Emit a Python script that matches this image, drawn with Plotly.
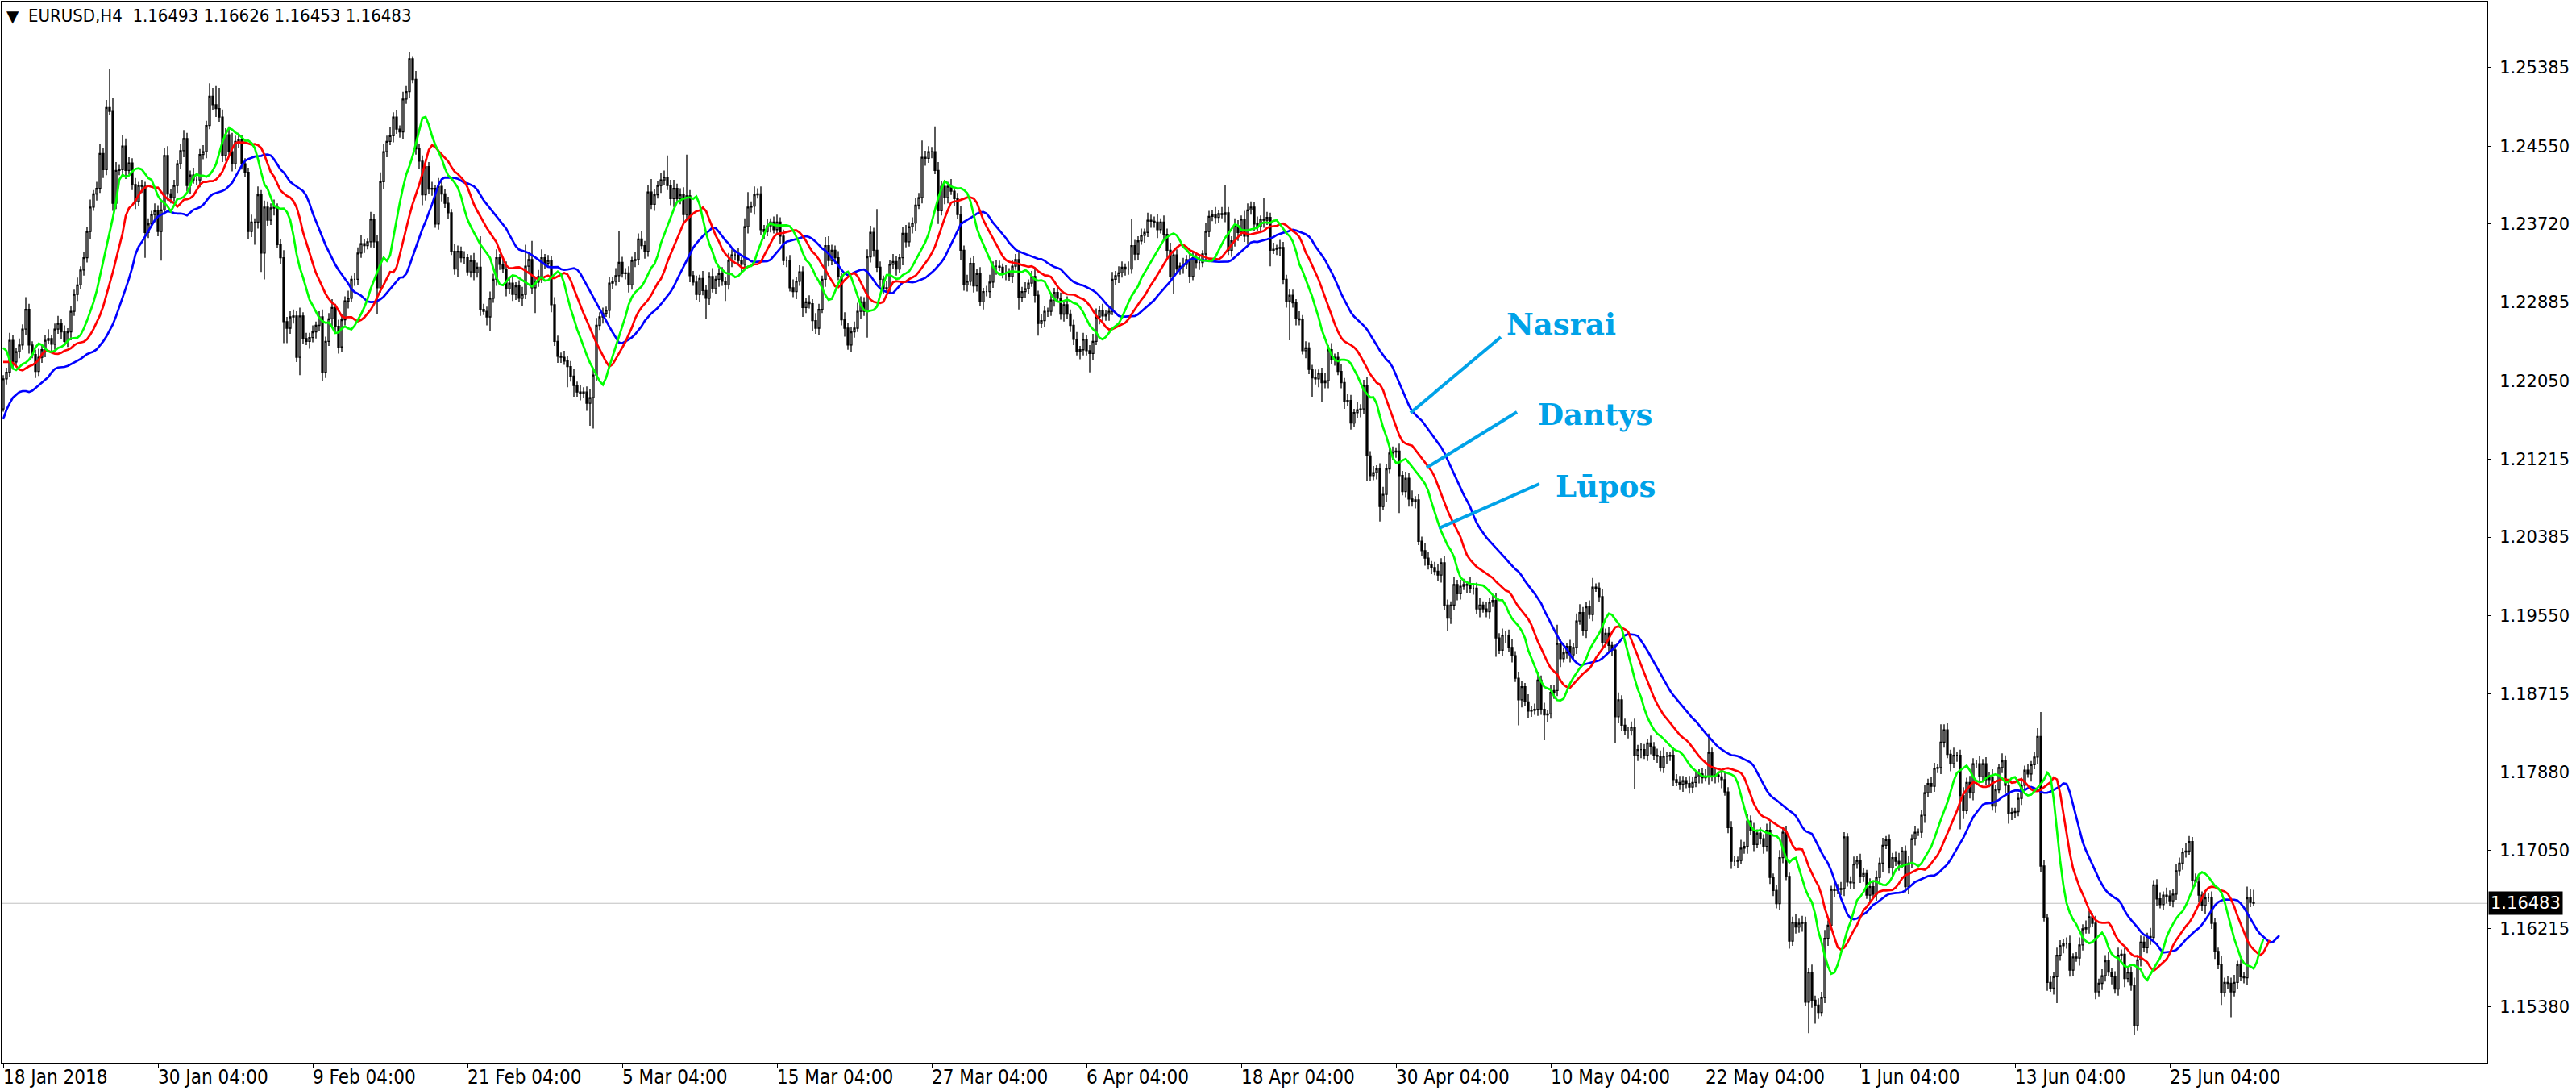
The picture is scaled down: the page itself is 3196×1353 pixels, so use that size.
import plotly.graph_objects as go

# --- data (prices in pips, 1 pip = 0.0001) ---
symbol_title = "EURUSD,H4  1.16493 1.16626 1.16453 1.16483"
last_price = 1.16483

first_open = 12175

closes = [
    12207, 12214, 12248, 12225, 12236, 12243, 12260, 12281, 12243, 12233,
    12215, 12230, 12238, 12248, 12250, 12244, 12260, 12266, 12257, 12247,
    12257, 12279, 12297, 12307, 12323, 12336, 12364, 12390, 12404, 12410,
    12447, 12430, 12496, 12492, 12394, 12429, 12430, 12455, 12429, 12437,
    12414, 12396, 12413, 12412, 12363, 12372, 12382, 12386, 12364, 12387,
    12445, 12404, 12400, 12413, 12436, 12450, 12463, 12413, 12424, 12419,
    12419, 12446, 12449, 12477, 12508, 12499, 12495, 12486, 12445, 12467,
    12449, 12436, 12460, 12462, 12436, 12427, 12364, 12374, 12374, 12403,
    12341, 12390, 12376, 12389, 12390, 12350, 12336, 12268, 12261, 12273,
    12274, 12230, 12274, 12250, 12247, 12251, 12257, 12264, 12273, 12214,
    12247, 12271, 12283, 12263, 12241, 12270, 12290, 12293, 12313, 12313,
    12341, 12351, 12349, 12353, 12377, 12353, 12304, 12417, 12449, 12460,
    12466, 12486, 12473, 12470, 12505, 12513, 12548, 12526, 12452, 12439,
    12403, 12433, 12409, 12410, 12372, 12412, 12404, 12394, 12384, 12343,
    12324, 12343, 12336, 12336, 12321, 12333, 12320, 12326, 12281, 12279,
    12273, 12293, 12313, 12336, 12329, 12324, 12303, 12309, 12297, 12306,
    12293, 12297, 12327, 12334, 12304, 12310, 12316, 12336, 12330, 12333,
    12286, 12247, 12231, 12230, 12226, 12220, 12210, 12200, 12193, 12191,
    12193, 12181, 12187, 12211, 12264, 12273, 12277, 12280, 12309, 12311,
    12317, 12331, 12319, 12320, 12307, 12333, 12334, 12356, 12349, 12343,
    12406, 12393, 12403, 12413, 12419, 12422, 12413, 12399, 12410, 12399,
    12403, 12382, 12402, 12317, 12310, 12297, 12314, 12301, 12293, 12316,
    12303, 12313, 12319, 12311, 12307, 12333, 12339, 12339, 12333, 12329,
    12369, 12390, 12391, 12403, 12404, 12366, 12364, 12370, 12374, 12366,
    12374, 12359, 12333, 12333, 12304, 12300, 12311, 12321, 12283, 12289,
    12287, 12269, 12261, 12281, 12313, 12349, 12333, 12344, 12336, 12316,
    12270, 12261, 12243, 12257, 12261, 12279, 12289, 12279, 12337, 12363,
    12344, 12326, 12313, 12303, 12304, 12329, 12332, 12324, 12336, 12362,
    12353, 12369, 12373, 12392, 12400, 12443, 12442, 12449, 12449, 12429,
    12386, 12412, 12400, 12412, 12407, 12399, 12382, 12344, 12307, 12311,
    12330, 12306, 12319, 12289, 12300, 12300, 12310, 12327, 12327, 12326,
    12320, 12320, 12316, 12327, 12334, 12294, 12300, 12303, 12309, 12316,
    12296, 12266, 12269, 12279, 12279, 12291, 12299, 12293, 12276, 12286,
    12276, 12264, 12249, 12236, 12238, 12249, 12237, 12234, 12247, 12273,
    12280, 12274, 12276, 12279, 12313, 12317, 12320, 12326, 12324, 12324,
    12349, 12340, 12354, 12360, 12363, 12376, 12375, 12374, 12366, 12374,
    12361, 12344, 12316, 12339, 12324, 12327, 12329, 12334, 12316, 12336,
    12331, 12331, 12340, 12364, 12380, 12382, 12379, 12383, 12382, 12384,
    12344, 12354, 12370, 12363, 12377, 12359, 12387, 12390, 12372, 12369,
    12377, 12376, 12379, 12344, 12345, 12346, 12347, 12313, 12290, 12296,
    12288, 12271, 12270, 12237, 12240, 12217, 12208, 12207, 12213, 12203,
    12205, 12238, 12228, 12230, 12215, 12203, 12183, 12184, 12160, 12171,
    12174, 12175, 12200, 12125, 12104, 12107, 12111, 12071, 12084, 12111,
    12128, 12129, 12130, 12104, 12087, 12101, 12079, 12076, 12078, 12034,
    12024, 12016, 12009, 12006, 12002, 11998, 12011, 11966, 11952, 11966,
    11988, 11978, 11986, 11988, 11987, 11984, 11984, 11962, 11966, 11962,
    11959, 11969, 11971, 11931, 11918, 11934, 11934, 11921, 11912, 11888,
    11865, 11879, 11863, 11853, 11854, 11855, 11886, 11855, 11849, 11850,
    11873, 11875, 11925, 11909, 11915, 11922, 11913, 11921, 11949, 11958,
    11939, 11964, 11956, 11985, 11984, 11975, 11926, 11936, 11923, 11918,
    11847, 11865, 11838, 11832, 11832, 11836, 11806, 11812, 11812, 11806,
    11819, 11815, 11806, 11805, 11793, 11805, 11805, 11806, 11780, 11777,
    11775, 11779, 11776, 11772, 11777, 11783, 11786, 11782, 11783, 11809,
    11783, 11785, 11783, 11780, 11767, 11729, 11693, 11693, 11694, 11707,
    11709, 11736, 11726, 11711, 11723, 11717, 11709, 11726, 11676, 11662,
    11648, 11697, 11724, 11677, 11608, 11628, 11623, 11627, 11628, 11543,
    11575, 11545, 11540, 11532, 11548, 11611, 11625, 11663, 11662, 11663,
    11664, 11719, 11671, 11670, 11690, 11694, 11677, 11680, 11657, 11666,
    11658, 11676, 11691, 11710, 11716, 11686, 11697, 11693, 11690, 11704,
    11666, 11691, 11717, 11724, 11724, 11742, 11766, 11776, 11773, 11792,
    11793, 11820, 11833, 11807, 11797, 11806, 11806, 11763, 11747, 11777,
    11766, 11797, 11797, 11783, 11797, 11780, 11782, 11752, 11769, 11793,
    11800, 11774, 11744, 11745, 11746, 11760, 11774, 11790, 11786, 11796,
    11804, 11826, 11688, 11633, 11564, 11558, 11570, 11593, 11603, 11605,
    11605, 11577, 11591, 11590, 11604, 11621, 11623, 11634, 11627, 11554,
    11563, 11571, 11587, 11575, 11570, 11557, 11593, 11594, 11568, 11575,
    11561, 11518, 11588, 11607, 11601, 11613, 11612, 11668, 11653, 11647,
    11657, 11656, 11651, 11658, 11683, 11691, 11703, 11704, 11714, 11673,
    11671, 11657, 11646, 11654, 11654, 11627, 11597, 11583, 11553, 11564,
    11563, 11554, 11564, 11583, 11570, 11569, 11654, 11649.3, 11648.3,
]

# upper / lower shadows in pips
wick_up = [
    4, 5, 8, 6, 4, 7, 5, 13, 6, 4, 5, 9, 5, 6, 10, 4, 6, 8, 5, 7, 4, 6, 5, 8, 4,
    6, 5, 8, 4, 7, 10, 6, 8, 41, 14, 9, 5, 12, 8, 6, 5, 7, 4, 6, 5, 6, 4, 8, 6, 9,
    8, 10, 5, 6, 4, 7, 9, 6, 5, 8, 4, 6, 7, 5, 14, 9, 20, 22, 8, 7, 9, 20, 6, 7, 5,
    6, 5, 8, 4, 9, 5, 7, 6, 5, 8, 4, 6, 8, 5, 6, 7, 5, 9, 4, 6, 5, 7, 4, 6, 8,
    5, 6, 9, 4, 7, 6, 5, 8, 4, 7, 6, 9, 5, 4, 8, 6, 7, 10, 8, 6, 9, 5, 7, 4, 8,
    6, 7, 2, 9, 5, 6, 8, 5, 7, 4, 9, 6, 5, 7, 4, 8, 6, 5, 7, 4, 6, 8, 5, 33, 6,
    5, 7, 6, 9, 4, 6, 8, 5, 7, 4, 6, 8, 23, 6, 20, 5, 7, 9, 4, 6, 5, 8, 6, 4, 7,
    5, 6, 8, 4, 7, 5, 6, 9, 7, 8, 5, 6, 4, 7, 5, 8, 33, 6, 5, 7, 4, 8, 6, 9, 5,
    8, 14, 6, 5, 7, 7, 23, 6, 9, 5, 7, 8, 44, 6, 5, 7, 4, 8, 6, 5, 9, 4, 6, 7, 5,
    8, 6, 5, 7, 4, 9, 16, 5, 9, 6, 8, 5, 7, 4, 6, 8, 5, 7, 4, 6, 9, 5, 7, 6, 4,
    7, 5, 8, 6, 4, 9, 10, 6, 5, 7, 4, 8, 6, 5, 7, 9, 6, 5, 8, 7, 5, 44, 6, 4, 7,
    5, 8, 6, 4, 7, 9, 5, 6, 8, 5, 18, 7, 6, 5, 27, 9, 6, 7, 5, 8, 4, 6, 9, 5, 7,
    6, 8, 5, 7, 4, 6, 8, 5, 7, 6, 4, 8, 5, 7, 6, 10, 5, 7, 4, 6, 9, 5, 7, 6, 4,
    8, 5, 7, 6, 4, 9, 5, 6, 8, 4, 7, 5, 6, 8, 9, 5, 7, 4, 6, 8, 5, 7, 6, 4, 8,
    28, 6, 5, 7, 4, 8, 6, 5, 9, 4, 7, 6, 8, 5, 6, 4, 7, 5, 8, 6, 5, 7, 4, 9, 6,
    5, 8, 4, 7, 29, 6, 5, 8, 6, 4, 9, 7, 6, 5, 8, 4, 23, 6, 5, 7, 4, 8, 6, 5, 7,
    6, 4, 8, 5, 7, 6, 5, 9, 4, 6, 8, 5, 7, 4, 6, 8, 5, 7, 6, 4, 8, 5, 6, 9, 5,
    7, 4, 6, 8, 5, 7, 6, 4, 8, 5, 7, 6, 9, 4, 6, 5, 8, 7, 4, 6, 8, 5, 7, 6, 4,
    8, 5, 7, 6, 4, 9, 5, 6, 8, 4, 7, 5, 6, 8, 5, 7, 4, 6, 9, 5, 7, 6, 4, 8, 5,
    6, 9, 5, 7, 4, 8, 6, 20, 5, 6, 4, 7, 5, 8, 9, 6, 5, 7, 10, 4, 6, 8, 5, 7, 4,
    6, 8, 5, 7, 4, 6, 9, 5, 7, 6, 4, 8, 5, 7, 6, 9, 5, 4, 8, 6, 7, 5, 4, 8, 6,
    7, 5, 6, 8, 20, 5, 7, 4, 6, 8, 5, 7, 6, 4, 9, 5, 7, 6, 8, 4, 6, 5, 7, 9, 4,
    6, 8, 5, 7, 4, 6, 9, 5, 7, 6, 4, 8, 5, 7, 6, 9, 5, 4, 8, 6, 7, 5, 4, 6, 8,
    5, 7, 6, 4, 9, 5, 7, 6, 8, 4, 6, 5, 7, 9, 4, 6, 8, 5, 7, 4, 6, 8, 5, 7, 6,
    4, 19, 6, 7, 5, 8, 4, 6, 9, 5, 7, 6, 4, 8, 5, 7, 6, 9, 5, 4, 8, 6, 7, 5, 4,
    6, 8, 5, 7, 4, 6, 9, 26, 6, 4, 7, 5, 8, 6, 5, 7, 9, 4, 6, 8, 5, 7, 6, 4, 8,
    5, 7, 6, 9, 4, 6, 8, 5, 7, 4, 6, 8, 5, 7, 6, 4, 9, 5, 6, 7, 4, 8, 6, 5, 7,
    6, 4, 8, 6, 5, 7, 6, 4, 8, 5, 7, 6, 4, 9, 5, 7, 6, 8, 4, 6, 5, 12, 9, 13.3,
]

wick_dn = [
    3, 6, 5, 8, 4, 7, 5, 6, 9, 4, 7, 5, 6, 8, 4, 7, 6, 5, 8, 4, 6, 9, 5, 7, 4,
    6, 5, 8, 4, 7, 5, 9, 6, 4, 8, 6, 5, 7, 9, 4, 6, 8, 5, 7, 27, 6, 4, 8, 5, 31,
    5, 7, 6, 4, 8, 5, 7, 6, 9, 4, 6, 8, 5, 7, 4, 6, 9, 5, 7, 6, 4, 8, 5, 7, 6,
    5, 8, 6, 24, 7, 20, 28, 6, 5, 8, 4, 7, 23, 16, 6, 7, 5, 19, 6, 4, 8, 5, 7, 6, 9,
    6, 5, 8, 7, 7, 5, 6, 8, 4, 7, 6, 5, 8, 4, 6, 7, 28, 5, 8, 6, 4, 7, 5, 6, 8,
    5, 7, 4, 6, 8, 11, 6, 5, 7, 4, 6, 8, 5, 7, 4, 6, 8, 5, 7, 4, 6, 8, 5, 7, 4,
    9, 15, 5, 7, 6, 4, 8, 5, 7, 6, 4, 8, 5, 7, 6, 27, 5, 7, 6, 4, 8, 5, 7, 6, 4,
    22, 6, 12, 5, 7, 4, 8, 24, 33, 6, 5, 7, 4, 8, 6, 5, 7, 4, 6, 8, 5, 7, 6, 4, 8,
    6, 5, 7, 4, 8, 6, 5, 7, 9, 4, 6, 8, 5, 7, 4, 6, 8, 5, 22, 7, 4, 6, 8, 5, 17,
    5, 7, 6, 4, 8, 5, 7, 6, 9, 4, 6, 8, 5, 7, 4, 6, 8, 5, 7, 4, 6, 8, 5, 10, 6,
    5, 11, 6, 7, 4, 8, 6, 5, 7, 4, 6, 9, 5, 7, 6, 4, 8, 5, 28, 6, 7, 5, 8, 6, 4,
    6, 5, 7, 4, 8, 6, 5, 7, 9, 4, 6, 8, 5, 7, 4, 14, 5, 7, 6, 4, 8, 5, 10, 6, 7,
    5, 7, 6, 4, 8, 5, 7, 6, 9, 4, 6, 8, 5, 7, 4, 13, 5, 7, 6, 4, 8, 13, 5, 7, 6,
    5, 7, 4, 6, 8, 5, 7, 6, 4, 8, 6, 5, 20, 7, 4, 8, 6, 5, 7, 4, 6, 8, 5, 7, 6,
    5, 7, 6, 4, 8, 5, 7, 6, 9, 4, 6, 8, 5, 18, 4, 6, 8, 5, 7, 4, 6, 8, 5, 7, 6,
    5, 7, 6, 4, 8, 5, 7, 6, 9, 4, 6, 8, 5, 7, 4, 6, 8, 5, 17, 4, 6, 8, 5, 7, 42,
    5, 7, 6, 4, 8, 5, 20, 6, 9, 21, 6, 8, 5, 7, 4, 6, 8, 5, 7, 4, 6, 8, 5, 27, 6,
    5, 7, 16, 4, 8, 5, 7, 6, 40, 4, 6, 8, 5, 7, 4, 6, 8, 5, 7, 4, 6, 8, 5, 14, 6,
    5, 7, 6, 4, 8, 5, 7, 6, 9, 4, 6, 8, 5, 20, 4, 6, 8, 5, 7, 4, 27, 8, 5, 7, 6,
    5, 7, 6, 27, 8, 5, 7, 6, 9, 4, 6, 8, 5, 7, 4, 6, 8, 5, 7, 4, 6, 8, 5, 7, 6,
    28, 7, 6, 4, 8, 5, 36, 6, 9, 4, 6, 8, 5, 7, 4, 6, 8, 5, 7, 4, 6, 8, 5, 7, 6,
    5, 7, 6, 4, 8, 5, 7, 6, 9, 4, 6, 8, 5, 7, 4, 6, 8, 5, 7, 4, 6, 8, 5, 7, 6,
    5, 7, 6, 4, 8, 5, 7, 6, 9, 4, 33, 8, 20, 7, 4, 6, 8, 5, 7, 4, 6, 8, 5, 7, 6,
    5, 7, 6, 4, 8, 5, 7, 6, 9, 4, 6, 8, 5, 7, 4, 6, 8, 5, 7, 4, 6, 8, 5, 7, 6,
    5, 7, 6, 4, 8, 5, 7, 36, 9, 4, 6, 8, 5, 7, 4, 6, 8, 5, 7, 4, 6, 8, 11, 7, 6,
    5, 7, 6, 4, 8, 5, 7, 6, 4, 9, 4, 7, 28, 6, 8, 5, 7, 6, 4, 8, 6, 5, 7, 4, 8,
    5, 7, 6, 4, 8, 5, 7, 6, 9, 4, 6, 10, 5, 7, 4, 6, 8, 5, 7, 4, 6, 8, 5, 7, 6,
    5, 7, 6, 4, 8, 5, 7, 6, 9, 4, 6, 8, 5, 13, 4, 6, 27, 5, 7, 4, 6, 8, 5, 3,
]

# Alligator values visible before the first computed point (pips)
jaw_head = [12164, 12174, 12181, 12187, 12190, 12193, 12194, 12194, 12193]
teeth_head = [12225, 12225, 12225, 12224, 12220, 12217]
lips_head = [12240, 12237, 12227, 12218]

date_bars = [0, 48, 96, 144, 192, 240, 288, 336, 384, 432, 480, 528, 576, 624, 672]
date_labels = ["18 Jan 2018", "30 Jan 04:00", "9 Feb 04:00", "21 Feb 04:00",
               "5 Mar 04:00", "15 Mar 04:00", "27 Mar 04:00", "6 Apr 04:00",
               "18 Apr 04:00", "30 Apr 04:00", "10 May 04:00", "22 May 04:00",
               "1 Jun 04:00", "13 Jun 04:00", "25 Jun 04:00"]

price_ticks = [1.25385, 1.24550, 1.23720, 1.22885, 1.22050, 1.21215, 1.20385,
               1.19550, 1.18715, 1.17880, 1.17050, 1.16215, 1.15380]

labels = ["Nasrai", "Dantys", "Lūpos"]


# build candles
n = len(closes)
bars = list(range(n))
opens = [first_open] + closes[:-1]
o = [v / 1e4 for v in opens]
c = [v / 1e4 for v in closes]
h = [max(a, b) / 1e4 + u / 1e4 for a, b, u in zip(opens, closes, wick_up)]
l = [min(a, b) / 1e4 - d / 1e4 for a, b, d in zip(opens, closes, wick_dn)]
median = [(a + b) / 2 for a, b in zip(h, l)]


def smma_line(head, period, shift):
    # smoothed MA, seeded from the last visible head value, shifted forward
    vals = [head[-1] / 1e4]
    for m in median[1:]:
        vals.append((vals[-1] * (period - 1) + m) / period)
    xs = list(range(len(head) - 1)) + [i + shift for i in range(n)]
    ys = [v / 1e4 for v in head[:-1]] + vals
    return xs, ys


fig = go.Figure()

fig.add_trace(go.Candlestick(
    x=bars, open=o, high=h, low=l, close=c,
    increasing=dict(line=dict(color="black", width=1.3), fillcolor="white"),
    decreasing=dict(line=dict(color="black", width=1.3), fillcolor="black"),
    whiskerwidth=0, hoverinfo="skip", showlegend=False,
))

for head, period, shift, color in [(jaw_head, 13, 8, "#0000FF"),
                                   (teeth_head, 8, 5, "#FF0000"),
                                   (lips_head, 5, 3, "#00FF00")]:
    xs, ys = smma_line(head, period, shift)
    fig.add_trace(go.Scatter(x=xs, y=ys, mode="lines",
                             line=dict(color=color, width=2.7),
                             hoverinfo="skip", showlegend=False))

# current price line
fig.add_shape(type="line", xref="paper", x0=0, x1=1, yref="y",
              y0=last_price, y1=last_price,
              line=dict(color="#C0C0C0", width=1), layer="below")

# pointer lines drawn over the chart
pointer_lines = [((436.5, 1.21708), (464.5, 1.22516)),
                 ((441.5, 1.21124), (469.5, 1.21717)),
                 ((445.3, 1.20479), (476.5, 1.20952))]
for (x0, y0), (x1, y1) in pointer_lines:
    fig.add_shape(type="line", x0=x0, y0=y0, x1=x1, y1=y1,
                  line=dict(color="#00A2E8", width=4))

label_pos = [(483.3, 1.22650), (493.8, 1.21690), (497.0, 1.20925)]
for txt, (x, y) in zip(labels, label_pos):
    fig.add_annotation(x=x, y=y, text=f"<b>{txt}</b>", showarrow=False,
                       xanchor="center", yanchor="middle",
                       font=dict(family="DejaVu Serif", size=37, color="#00A2E8"))

narrow = "Liberation Sans Narrow, DejaVu Sans Condensed, Arial Narrow, sans-serif"

for b, txt in zip(date_bars, date_labels):
    fig.add_annotation(x=b, y=0, xref="x", yref="paper", text=txt,
                       showarrow=False, xanchor="left", yanchor="top",
                       xshift=-1, yshift=-3, borderpad=0,
                       font=dict(family=narrow, size=24, color="black"))

# title
fig.add_annotation(x=0, y=1, xref="paper", yref="paper", text="▼",
                   showarrow=False, xanchor="left", yanchor="top",
                   xshift=4, yshift=-4,
                   font=dict(family="DejaVu Sans", size=20, color="black"))
fig.add_annotation(x=0, y=1, xref="paper", yref="paper", text=symbol_title,
                   showarrow=False, xanchor="left", yanchor="top",
                   xshift=31, yshift=-3,
                   font=dict(family=narrow, size=22, color="black"))

# price box on the axis
fig.add_annotation(x=1, y=last_price, xref="paper", yref="y",
                   text=f"{last_price:.5f}", showarrow=False,
                   xanchor="left", yanchor="middle", xshift=1,
                   bgcolor="black", borderpad=2,
                   font=dict(family="DejaVu Sans", size=21, color="white"))

fig.update_layout(
    width=3196, height=1353,
    margin=dict(l=2, r=110, t=2, b=35),
    paper_bgcolor="white", plot_bgcolor="white",
    showlegend=False,
    xaxis=dict(range=[-0.5, 770.5], showgrid=False, zeroline=False,
               showline=True, mirror=True, linecolor="black", linewidth=1,
               ticks="outside", ticklen=5, tickcolor="black",
               tickvals=date_bars, showticklabels=False,
               rangeslider=dict(visible=False)),
    yaxis=dict(range=[1.14784, 1.26089], side="right", showgrid=False,
               zeroline=False, showline=True, mirror=True,
               linecolor="black", linewidth=1,
               ticks="outside", ticklen=4, tickcolor="black",
               tickvals=price_ticks,
               ticktext=[f"{v:.5f}" for v in price_ticks],
               tickfont=dict(family="DejaVu Sans", size=21, color="black"),
               ticklabelstandoff=6),
)

fig.write_html("out.html", config={"displayModeBar": False},
               post_script="document.body.style.margin='0';document.body.style.overflow='hidden';")
